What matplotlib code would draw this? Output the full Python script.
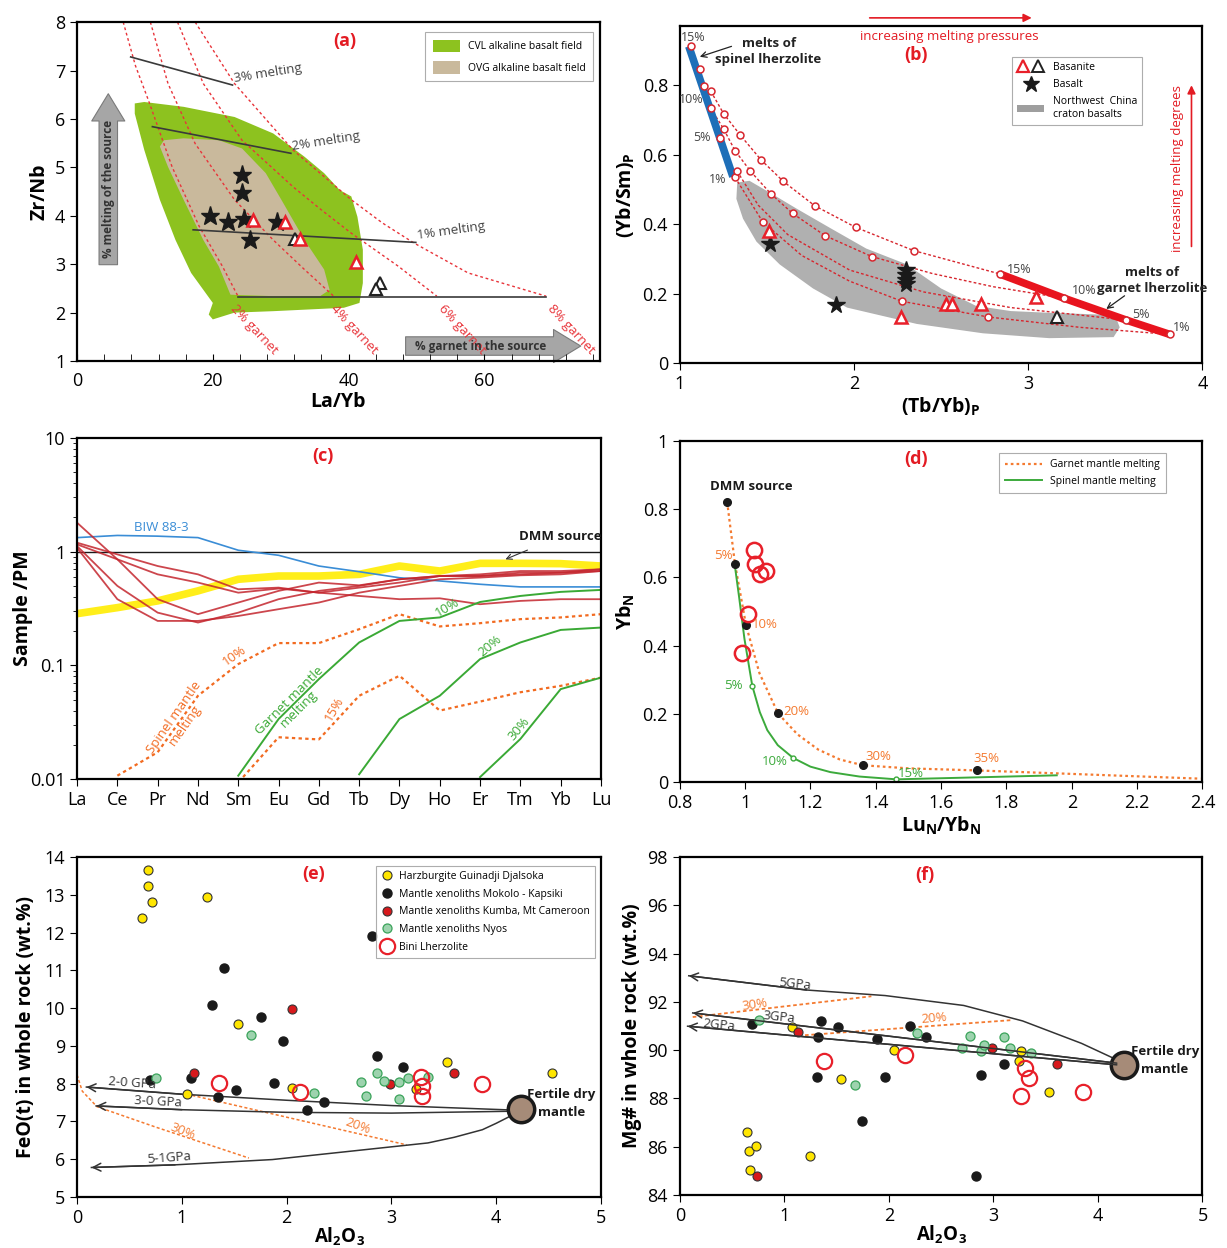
import numpy as np
import matplotlib.pyplot as plt
from matplotlib.patches import Polygon, Patch, FancyArrowPatch
from matplotlib.lines import Line2D
from matplotlib.legend_handler import HandlerTuple
from matplotlib.ticker import MultipleLocator, FixedLocator, FixedFormatter, NullFormatter

plt.rcParams['font.family'] = ['Open Sans', 'DejaVu Sans']
plt.rcParams['mathtext.fontset'] = 'custom'
plt.rcParams['mathtext.rm'] = 'Open Sans'
plt.rcParams['mathtext.bf'] = 'Open Sans:bold'
plt.rcParams['axes.linewidth'] = 1.6
plt.rcParams['xtick.labelsize'] = 13
plt.rcParams['ytick.labelsize'] = 13

RED_T = '#E31B23'

# ---------------- (a) Zr/Nb vs La/Yb ----------------
cvl_field = [(8.5, 6.32), (9.9, 6.35), (15.7, 6.25), (23.2, 6.04), (28.9, 5.70), (33.5, 5.22),
             (36.4, 4.88), (38.7, 4.53), (40.4, 4.40), (41.3, 3.98), (42.1, 3.30), (42.1, 2.61),
             (41.6, 2.20), (39.3, 2.10), (28.9, 2.03), (23.2, 2.0), (20.0, 1.86), (19.4, 1.96),
             (20.0, 2.2), (16.8, 2.82), (14.5, 3.5), (12.2, 4.33), (9.9, 5.36), (8.5, 6.11)]
ovg_field = [(12.8, 5.56), (15.7, 5.60), (20.9, 5.56), (24.3, 5.39), (27.8, 4.88), (30.1, 4.33),
             (33.5, 3.50), (36.4, 2.89), (37.2, 2.47), (35.8, 2.34), (28.9, 2.34), (22.6, 2.37),
             (20.9, 2.95), (18.6, 3.50), (15.7, 4.33), (13.4, 5.01), (12.2, 5.43)]
garnet_curves = {
    '2% garnet': ([6.8, 8.6, 10.5, 14.0, 18.0, 21.4, 23.7], [8.0, 7.1, 6.39, 5.01, 3.78, 2.96, 2.34]),
    '4% garnet': ([10.8, 13.4, 17.4, 23.2, 28.9, 33.5, 37.8], [8.0, 6.73, 5.49, 4.33, 3.50, 2.89, 2.34]),
    '6% garnet': ([14.8, 18.6, 24.3, 31.8, 36.0, 40.4, 47.3, 53.0], [8.0, 6.73, 5.56, 4.60, 4.12, 3.64, 2.96, 2.34]),
    '8% garnet': ([17.4, 23.2, 31.8, 40.4, 45.0, 49.6, 57.6, 69.1], [8.0, 6.73, 5.36, 4.33, 3.85, 3.44, 2.82, 2.34]),
}
garnet_label_pos = [(23.7, 2.22), (38.4, 2.22), (54.3, 2.22), (70.3, 2.22)]
melting_lines = {
    '3% melting': ([7.9, 22.9], [7.28, 6.70]),
    '2% melting': ([11.1, 31.5], [5.84, 5.29]),
    '1% melting': ([17.1, 49.9], [3.71, 3.45]),
    '': ([23.7, 69.1], [2.32, 2.32]),
}
a_star_x = [24.3, 24.3, 19.6, 22.3, 24.6, 29.5, 25.5]
a_star_y = [4.84, 4.47, 4.00, 3.88, 3.94, 3.88, 3.49]
a_redtri_x = [25.9, 30.7, 32.8, 41.1]
a_redtri_y = [3.92, 3.87, 3.52, 3.04]
a_blktri_x = [32.1, 44.7, 44.0]
a_blktri_y = [3.52, 2.61, 2.49]

# ---------------- (b) (Yb/Sm)P vs (Tb/Yb)P ----------------
spinel_line_x = [1.052, 1.305]
spinel_line_y = [0.912, 0.537]
garnet_line_x = [2.836, 3.205, 3.563, 3.811]
garnet_line_y = [0.257, 0.187, 0.124, 0.083]
curveA_x = [1.178, 1.252, 1.348, 1.467, 1.595, 1.775, 2.010, 2.343, 2.836]
curveA_y = [0.783, 0.718, 0.656, 0.585, 0.523, 0.453, 0.391, 0.324, 0.257]
curveB_x = [1.178, 1.252, 1.317, 1.405, 1.524, 1.648, 1.834, 2.102, 2.45, 2.80, 3.205]
curveB_y = [0.734, 0.674, 0.612, 0.553, 0.487, 0.431, 0.367, 0.307, 0.258, 0.220, 0.187]
curveC_x = [1.329, 1.45, 1.62, 1.975, 2.40, 2.90, 3.563]
curveC_y = [0.553, 0.455, 0.370, 0.268, 0.205, 0.160, 0.124]
curveD_x = [1.317, 1.476, 1.70, 1.975, 2.276, 2.770, 3.30, 3.811]
curveD_y = [0.535, 0.407, 0.310, 0.236, 0.178, 0.133, 0.103, 0.083]
b_circle_x = [1.067, 1.115, 1.139, 1.229, 1.317, 1.178, 1.252, 1.348, 1.467, 1.595, 1.775, 2.010,
              2.343, 1.178, 1.252, 1.317, 1.405, 1.524, 1.648, 1.834, 2.102, 1.329, 1.476, 2.276,
              2.770, 2.836, 3.205, 3.563, 3.811]
b_circle_y = [0.912, 0.846, 0.799, 0.648, 0.535, 0.783, 0.718, 0.656, 0.585, 0.523, 0.453, 0.391,
              0.324, 0.734, 0.674, 0.612, 0.553, 0.487, 0.431, 0.367, 0.307, 0.553, 0.407, 0.178,
              0.133, 0.257, 0.187, 0.124, 0.083]
nw_china_field = [(1.33, 0.52), (1.40, 0.525), (1.52, 0.49), (1.67, 0.445), (1.86, 0.39), (2.07, 0.33),
                  (2.30, 0.285), (2.50, 0.215), (2.70, 0.165), (2.90, 0.150), (3.12, 0.145), (3.41, 0.140),
                  (3.505, 0.130), (3.525, 0.103), (3.49, 0.075), (3.12, 0.072), (2.74, 0.086), (2.36, 0.113),
                  (1.96, 0.160), (1.765, 0.215), (1.574, 0.284), (1.44, 0.350), (1.363, 0.416), (1.325, 0.473)]
b_star_x = [1.516, 1.899, 2.30, 2.30, 2.30, 2.30]
b_star_y = [0.342, 0.168, 0.268, 0.255, 0.240, 0.228]
b_redtri_x = [1.512, 2.272, 2.53, 2.564, 2.727, 3.046]
b_redtri_y = [0.381, 0.133, 0.171, 0.171, 0.169, 0.190]
b_blktri_x = [3.164]
b_blktri_y = [0.134]
spinel_pct = ['15%', '10%', '5%', '1%']
spinel_pct_pos = [(1.076, 0.937), (1.067, 0.76), (1.13, 0.649), (1.22, 0.53)]
garnet_pct = ['15%', '10%', '5%', '1%']
garnet_pct_pos = [(2.951, 0.27), (3.324, 0.208), (3.649, 0.141), (3.878, 0.103)]

# ---------------- (c) REE patterns ----------------
ree = ['La', 'Ce', 'Pr', 'Nd', 'Sm', 'Eu', 'Gd', 'Tb', 'Dy', 'Ho', 'Er', 'Tm', 'Yb', 'Lu']
biw_88_3 = [1.33, 1.39, 1.37, 1.33, 1.03, 0.93, 0.748, 0.667, 0.59, 0.553, 0.517, 0.49, 0.49, 0.49]
dmm_pattern = [0.285, 0.322, 0.369, 0.452, 0.572, 0.611, 0.611, 0.632, 0.748, 0.676, 0.79, 0.79, 0.785, 0.748]
samples_c = [
    [1.8, 0.857, 0.382, 0.282, 0.357, 0.452, 0.535, 0.506, 0.572, 0.611, 0.611, 0.654, 0.654, 0.676],
    [1.2, 0.947, 0.748, 0.632, 0.467, 0.483, 0.436, 0.408, 0.382, 0.389, 0.345, 0.369, 0.382, 0.382],
    [1.16, 0.857, 0.632, 0.535, 0.436, 0.474, 0.436, 0.483, 0.535, 0.611, 0.632, 0.676, 0.676, 0.70],
    [1.12, 0.50, 0.291, 0.238, 0.291, 0.382, 0.452, 0.50, 0.572, 0.611, 0.611, 0.632, 0.654, 0.70],
    [1.08, 0.382, 0.246, 0.246, 0.272, 0.312, 0.357, 0.436, 0.50, 0.572, 0.592, 0.62, 0.632, 0.676],
]
spinel10_x = [1, 2, 3, 4, 5, 6, 7, 8, 9, 10, 11, 12, 13]
spinel10_y = [0.0107, 0.0172, 0.054, 0.1026, 0.157, 0.157, 0.208, 0.282, 0.22, 0.235, 0.255, 0.264, 0.282]
spinel15_x = [4.12, 5, 6, 7, 8, 9, 10, 11, 12, 13]
spinel15_y = [0.0104, 0.0233, 0.0223, 0.054, 0.081, 0.040, 0.048, 0.058, 0.066, 0.078]
garnet10_x = [4, 5, 6, 7, 8, 9, 10, 11, 12, 13]
garnet10_y = [0.0107, 0.0337, 0.0757, 0.159, 0.246, 0.264, 0.361, 0.408, 0.443, 0.461]
garnet20_x = [7, 8, 9, 10, 11, 12, 13]
garnet20_y = [0.011, 0.0337, 0.054, 0.1135, 0.159, 0.205, 0.215]
garnet30_x = [10, 11, 12, 13]
garnet30_y = [0.0104, 0.0225, 0.0618, 0.078]

# ---------------- (d) YbN vs LuN/YbN ----------------
gmelt_x = [0.945, 0.969, 1.003, 1.044, 1.101, 1.16, 1.224, 1.29, 1.361, 1.50, 1.709, 2.394]
gmelt_y = [0.822, 0.640, 0.459, 0.319, 0.201, 0.140, 0.095, 0.066, 0.049, 0.040, 0.034, 0.0098]
gmelt_dot_x = [0.945, 0.969, 1.003, 1.101, 1.361, 1.709]
gmelt_dot_y = [0.822, 0.640, 0.459, 0.201, 0.049, 0.034]
gmelt_lab = ['5%', '10%', '20%', '30%', '35%']
gmelt_lab_pos = [(0.935, 0.664), (1.059, 0.461), (1.158, 0.206), (1.409, 0.074), (1.739, 0.069)]
smelt_x = [0.969, 0.982, 0.998, 1.022, 1.045, 1.068, 1.10, 1.147, 1.20, 1.261, 1.35, 1.463, 1.671, 1.954]
smelt_y = [0.632, 0.54, 0.42, 0.282, 0.205, 0.152, 0.108, 0.0706, 0.045, 0.029, 0.016, 0.0078, 0.0127, 0.0196]
smelt_dot_x = [1.022, 1.147, 1.463]
smelt_dot_y = [0.282, 0.0706, 0.0078]
smelt_lab = ['5%', '10%', '15%']
smelt_lab_pos = [(0.965, 0.282), (1.092, 0.061), (1.508, 0.025)]
d_bini_x = [1.026, 1.030, 1.045, 1.064, 1.008, 0.989]
d_bini_y = [0.679, 0.640, 0.611, 0.620, 0.493, 0.379]

# ---------------- (e) FeO(t) vs Al2O3 ----------------
harz_e_x = [0.676, 0.676, 0.713, 0.62, 1.236, 1.537, 1.047, 2.049, 3.237, 3.526, 4.529]
harz_e_y = [13.66, 13.23, 12.80, 12.38, 12.95, 9.57, 7.72, 7.88, 7.87, 8.58, 8.27]
mokolo_e_x = [2.81, 1.403, 1.292, 1.752, 1.964, 2.866, 3.107, 0.694, 1.084, 1.882, 1.518, 1.344, 2.357, 2.197]
mokolo_e_y = [11.92, 11.07, 10.09, 9.76, 9.12, 8.73, 8.45, 8.09, 8.14, 8.01, 7.83, 7.64, 7.52, 7.30]
kumba_e_x = [2.049, 1.114, 2.988, 3.60]
kumba_e_y = [9.98, 8.27, 7.99, 8.29]
nyos_e_x = [1.659, 0.757, 2.261, 2.71, 2.866, 2.929, 2.754, 3.073, 3.155, 3.07, 3.348]
nyos_e_y = [9.28, 8.16, 7.74, 8.04, 8.28, 8.08, 7.68, 8.05, 8.16, 7.59, 8.18]
bini_e_x = [1.355, 2.131, 3.281, 3.292, 3.292, 3.86]
bini_e_y = [8.03, 7.79, 8.18, 7.94, 7.67, 7.99]
fertile_e = (4.239, 7.32)
e_paths = {
    '2-0 GPa': ([4.165, 3.0, 2.0, 1.0, 0.089], [7.30, 7.42, 7.56, 7.72, 7.91]),
    '3-0 GPa': ([4.165, 3.0, 2.0, 1.0, 0.182], [7.27, 7.22, 7.24, 7.31, 7.41]),
    '5-1GPa': ([4.128, 4.0, 3.868, 3.6, 3.348, 2.606, 1.863, 0.935, 0.137],
               [7.13, 6.95, 6.78, 6.58, 6.43, 6.21, 5.99, 5.85, 5.78]),
}
e_path_lab_pos = [(0.53, 8.0, -4), (0.77, 7.52, -3), (0.88, 6.03, 4)]
e_melt30_x = [0.0, 0.05, 0.19, 0.75, 1.64]
e_melt30_y = [8.23, 7.80, 7.39, 6.85, 6.03]
e_melt20_x = [1.05, 3.144]
e_melt20_y = [7.72, 6.38]

# ---------------- (f) Mg# vs Al2O3 ----------------
harz_f_x = [0.639, 0.661, 0.729, 0.676, 1.243, 1.544, 1.071, 2.047, 3.268, 3.249, 3.535]
harz_f_y = [86.59, 85.81, 86.02, 85.05, 85.60, 88.79, 90.96, 90.0, 89.98, 89.57, 88.26]
mokolo_f_x = [0.687, 1.349, 1.514, 1.319, 1.89, 2.205, 2.352, 1.315, 1.965, 1.739, 2.881, 3.099, 2.829]
mokolo_f_y = [91.10, 91.21, 90.96, 90.55, 90.45, 90.99, 90.55, 88.89, 88.89, 87.07, 88.98, 89.42, 84.79]
kumba_f_x = [1.131, 2.99, 3.606, 0.736]
kumba_f_y = [90.73, 90.08, 89.42, 84.79]
nyos_f_x = [0.755, 1.679, 2.265, 2.70, 2.772, 2.885, 2.915, 3.103, 3.159, 3.358]
nyos_f_y = [91.24, 88.55, 90.69, 90.10, 90.60, 89.98, 90.21, 90.55, 90.08, 89.87]
bini_f_x = [1.379, 2.152, 3.298, 3.336, 3.264, 3.862]
bini_f_y = [89.54, 89.80, 89.26, 88.85, 88.12, 88.25]
fertile_f = (4.249, 89.39)
f_paths = {
    '5GPa': ([4.181, 3.843, 3.279, 2.716, 1.965, 1.213, 0.086], [89.6, 90.28, 91.21, 91.85, 92.26, 92.49, 93.08]),
    '3GPa': ([4.181, 0.124], [89.46, 91.54]),
    '2GPa': ([4.181, 0.075], [89.39, 90.99]),
}
f_path_lab_pos = [(1.1, 92.75, -6), (0.95, 91.35, -6), (0.37, 91.05, -6)]
f_melt30_x = [0.124, 1.833]
f_melt30_y = [91.37, 92.23]
f_melt20_x = [1.138, 3.167]
f_melt20_y = [90.6, 91.24]

# =====================================================
fig = plt.figure(figsize=(12.27, 12.48), dpi=100)
ax_a = fig.add_axes([0.0628, 0.7107, 0.426, 0.2716])
ax_b = fig.add_axes([0.554, 0.709, 0.426, 0.270])
ax_c = fig.add_axes([0.0628, 0.3758, 0.427, 0.2732])
ax_d = fig.add_axes([0.554, 0.3734, 0.426, 0.2732])
ax_e = fig.add_axes([0.0628, 0.0409, 0.427, 0.2724])
ax_f = fig.add_axes([0.554, 0.0425, 0.426, 0.2708])


def panel_tag(ax, x, y, s):
    ax.text(x, y, s, color=RED_T, fontsize=13, fontweight='bold', ha='center', va='center')


# ---- (a)
ax = ax_a
ax.add_patch(Polygon(cvl_field, closed=True, fc='#8DC21F', ec='none'))
ax.add_patch(Polygon(ovg_field, closed=True, fc='#C9B99C', ec='none'))
for (lab, (xs, ys)), (lx, ly) in zip(garnet_curves.items(), garnet_label_pos):
    ax.plot(xs, ys, ls=(0, (2, 2)), color='#E8343A', lw=1.0)
    ax.text(lx, ly, lab, color='#E8343A', fontsize=9.5, rotation=-47, rotation_mode='anchor',
            ha='left', va='top')
for lab, (xs, ys) in melting_lines.items():
    ax.plot(xs, ys, color='#3a3a3a', lw=1.2)
    if lab:
        ang = 9 if lab != '1% melting' else 8
        ax.text(xs[-1] + 0.3, ys[-1], lab, color='#444444', fontsize=9.5, rotation=ang,
                rotation_mode='anchor', ha='left', va='bottom')
ax.plot(a_star_x, a_star_y, '*', color='#1a1a1a', ms=14, ls='none')
ax.plot(a_blktri_x, a_blktri_y, '^', mfc='white', mec='#222222', mew=1.5, ms=9, ls='none')
ax.plot(a_redtri_x, a_redtri_y, '^', mfc='white', mec='#E8202A', mew=1.8, ms=9, ls='none')
ax.add_patch(FancyArrowPatch((4.6, 2.99), (4.6, 6.52), arrowstyle='simple,head_length=1.4,head_width=1.7,tail_width=0.95',
                             mutation_scale=14, fc='#A6A6A6', ec='#7a7a7a', lw=0.8, shrinkA=0, shrinkB=0))
ax.text(4.6, 4.55, '% melting of the source', rotation=90, ha='center', va='center', fontsize=8.5,
        fontweight='bold', color='#333333')
ax.add_patch(FancyArrowPatch((48.4, 1.31), (74.2, 1.31), arrowstyle='simple,head_length=1.4,head_width=1.7,tail_width=0.95',
                             mutation_scale=14, fc='#A6A6A6', ec='#7a7a7a', lw=0.8, shrinkA=0, shrinkB=0,
                             clip_on=False))
ax.text(59.5, 1.31, '% garnet in the source', ha='center', va='center', fontsize=8.5,
        fontweight='bold', color='#333333')
panel_tag(ax, 39.5, 7.6, '(a)')
leg = ax.legend(handles=[Patch(fc='#8DC21F', ec='none'), Patch(fc='#C9B99C', ec='none')],
                labels=['CVL alkaline basalt field', 'OVG alkaline basalt field'],
                loc='upper right', bbox_to_anchor=(0.997, 0.985), fontsize=7.5, fancybox=False,
                edgecolor='#999999', handlelength=2.6, handleheight=1.5, borderpad=0.7, labelspacing=0.8)
leg.get_frame().set_linewidth(0.8)
ax.set_xlim(0, 77)
ax.set_ylim(1, 8)
ax.set_xticks([0, 20, 40, 60])
ax.xaxis.set_minor_locator(MultipleLocator(4))
ax.tick_params(axis='x', which='both', direction='in', length=5, pad=8)
ax.tick_params(axis='y', direction='out', length=5)
ax.set_xlabel('La/Yb', fontsize=14, fontweight='bold', labelpad=1)
ax.set_ylabel('Zr/Nb', fontsize=14, fontweight='bold', labelpad=4)

# ---- (b)
ax = ax_b
ax.add_patch(Polygon(nw_china_field, closed=True, fc='#B0B0B0', ec='none'))
for xs, ys in [(curveA_x, curveA_y), (curveB_x, curveB_y), (curveC_x, curveC_y), (curveD_x, curveD_y)]:
    ax.plot(xs, ys, ls=(0, (2, 1.6)), color='#D7262E', lw=1.0)
ax.plot(spinel_line_x, spinel_line_y, color='#1E6FB8', lw=5.5, solid_capstyle='butt')
ax.plot(garnet_line_x, garnet_line_y, color='#E8141E', lw=5.5, solid_capstyle='butt')
ax.plot(b_circle_x, b_circle_y, 'o', mfc='white', mec='#D7262E', mew=1.1, ms=5, ls='none')
ax.plot(b_star_x, b_star_y, '*', color='#1a1a1a', ms=13, ls='none')
ax.plot(b_redtri_x, b_redtri_y, '^', mfc='white', mec='#E8202A', mew=1.8, ms=9, ls='none')
ax.plot(b_blktri_x, b_blktri_y, '^', mfc='white', mec='#222222', mew=1.5, ms=9, ls='none')
for s, (x, y) in zip(spinel_pct, spinel_pct_pos):
    ax.text(x, y, s, fontsize=9, color='#444444', ha='center', va='center')
for s, (x, y) in zip(garnet_pct, garnet_pct_pos):
    ax.text(x, y, s, fontsize=9, color='#444444', ha='center', va='center')
ax.text(1.51, 0.898, 'melts of\nspinel lherzolite', fontsize=9.5, fontweight='bold', ha='center',
        va='center', color='#222222', linespacing=1.3)
ax.annotate('', xy=(1.115, 0.882), xytext=(1.297, 0.912),
            arrowprops=dict(arrowstyle='->', color='#222222', lw=0.9, shrinkA=0, shrinkB=0))
ax.text(3.71, 0.239, 'melts of\ngarnet lherzolite', fontsize=9.5, fontweight='bold', ha='center',
        va='center', color='#222222', linespacing=1.3)
ax.annotate('', xy=(3.448, 0.156), xytext=(3.553, 0.194),
            arrowprops=dict(arrowstyle='->', color='#222222', lw=0.9, shrinkA=0, shrinkB=0))
panel_tag(ax, 2.358, 0.886, '(b)')
ax.text(2.545, 0.94, 'increasing melting pressures', color=RED_T, fontsize=9.5, ha='center', va='center')
ax.annotate('', xy=(3.02, 0.994), xytext=(2.09, 0.994), annotation_clip=False,
            arrowprops=dict(arrowstyle='-|>', color=RED_T, lw=1.2, mutation_scale=12, shrinkA=0, shrinkB=0))
ax.text(3.855, 0.56, 'increasing melting degrees', color=RED_T, fontsize=9.5, rotation=90,
        ha='center', va='center')
ax.annotate('', xy=(3.937, 0.80), xytext=(3.937, 0.336),
            arrowprops=dict(arrowstyle='-|>', color=RED_T, lw=1.2, mutation_scale=12, shrinkA=0, shrinkB=0))
h_tri_r = Line2D([], [], marker='^', mfc='white', mec='#E8202A', mew=1.6, ms=8, ls='none')
h_tri_k = Line2D([], [], marker='^', mfc='white', mec='#222222', mew=1.4, ms=8, ls='none')
h_star = Line2D([], [], marker='*', color='#1a1a1a', ms=12, ls='none')
leg = ax.legend(handles=[(h_tri_r, h_tri_k), h_star, Patch(fc='#9E9E9E', ec='none')],
                labels=['Basanite', 'Basalt', 'Northwest  China\ncraton basalts'],
                handler_map={tuple: HandlerTuple(ndivide=None, pad=0.3)},
                loc='upper right', bbox_to_anchor=(0.895, 0.925), fontsize=7.5, fancybox=False,
                edgecolor='#999999', handlelength=2.6, borderpad=0.5, labelspacing=0.6)
leg.get_frame().set_linewidth(0.8)
ax.set_xlim(1, 4)
ax.set_ylim(0, 0.97)
ax.set_xticks([1, 2, 3, 4])
ax.set_yticks([0, 0.2, 0.4, 0.6, 0.8])
ax.set_yticklabels(['0', '0.2', '0.4', '0.6', '0.8'])
ax.tick_params(direction='out', length=5)
ax.set_xlabel(r'$\mathbf{(Tb/Yb)_P}$', fontsize=14, labelpad=2)
ax.set_ylabel(r'$\mathbf{(Yb/Sm)_P}$', fontsize=14, labelpad=4)

# ---- (c)
ax = ax_c
xc = np.arange(len(ree))
ax.axhline(1, color='#1a1a1a', lw=1.0)
ax.plot(xc, dmm_pattern, color='#FFEE1A', lw=5.5, solid_joinstyle='round')
ax.plot(xc, biw_88_3, color='#3A8DD6', lw=1.2)
for s in samples_c:
    ax.plot(xc, s, color='#C4262E', lw=1.3, alpha=0.85)
ax.plot(spinel10_x, spinel10_y, ls=(0, (1.5, 1.5)), color='#F26B21', lw=1.6)
ax.plot(spinel15_x, spinel15_y, ls=(0, (1.5, 1.5)), color='#F26B21', lw=1.6)
for xs, ys in [(garnet10_x, garnet10_y), (garnet20_x, garnet20_y), (garnet30_x, garnet30_y)]:
    ax.plot(xs, ys, color='#3AA935', lw=1.4)
ax.text(2.08, 1.62, 'BIW 88-3', color='#3A8DD6', fontsize=9.5, ha='center', va='center')
ax.annotate('DMM source', xy=(10.63, 0.857), xytext=(11.98, 1.36), fontsize=9.5, fontweight='bold',
            ha='center', va='center', color='#1a1a1a',
            arrowprops=dict(arrowstyle='->', color='#333333', lw=0.8, shrinkA=8, shrinkB=0))
ax.text(2.55, 0.032, 'Spinel mantle\nmelting', color='#F26B21', fontsize=9.5, rotation=55,
        ha='center', va='center', linespacing=1.0)
ax.text(5.38, 0.045, 'Garnet mantle\nmelting', color='#3AA935', fontsize=9.5, rotation=45,
        ha='center', va='center', linespacing=1.0)
ax.text(3.9, 0.121, '10%', color='#F26B21', fontsize=9.5, rotation=35, ha='center', va='center')
ax.text(6.37, 0.041, '15%', color='#F26B21', fontsize=9.5, rotation=60, ha='center', va='center')
ax.text(9.18, 0.32, '10%', color='#3AA935', fontsize=9.5, rotation=30, ha='center', va='center')
ax.text(10.24, 0.148, '20%', color='#3AA935', fontsize=9.5, rotation=40, ha='center', va='center')
ax.text(10.97, 0.0275, '30%', color='#3AA935', fontsize=9.5, rotation=50, ha='center', va='center')
panel_tag(ax, 6.1, 6.9, '(c)')
ax.set_yscale('log')
ax.set_xlim(0, 13)
ax.set_ylim(0.01, 10)
ax.set_xticks(xc)
ax.set_xticklabels(ree)
ax.yaxis.set_major_locator(FixedLocator([0.01, 0.1, 1, 10]))
ax.yaxis.set_major_formatter(FixedFormatter(['0.01', '0.1', '1', '10']))
ax.yaxis.set_minor_formatter(NullFormatter())
ax.tick_params(direction='out', length=5)
ax.tick_params(which='minor', direction='out', length=3)
ax.set_ylabel('Sample /PM', fontsize=14, fontweight='bold')
ax.yaxis.set_label_coords(-0.085, 0.5)

# ---- (d)
ax = ax_d
ax.plot(gmelt_x, gmelt_y, ls=(0, (1.2, 1.4)), color='#F47A30', lw=1.6, label='Garnet mantle melting')
ax.plot(smelt_x, smelt_y, color='#3CAA3C', lw=1.4, label='Spinel mantle melting')
ax.plot(gmelt_dot_x, gmelt_dot_y, 'o', color='#1a1a1a', ms=5.5, ls='none')
ax.plot(smelt_dot_x, smelt_dot_y, 'o', mfc='white', mec='#3CAA3C', ms=3.5, mew=1, ls='none')
ax.plot(d_bini_x, d_bini_y, 'o', mfc='none', mec='#E8202A', mew=1.8, ms=11, ls='none')
for s, (x, y) in zip(gmelt_lab, gmelt_lab_pos):
    ax.text(x, y, s, color='#F47A30', fontsize=9.5, ha='center', va='center')
for s, (x, y) in zip(smelt_lab, smelt_lab_pos):
    ax.text(x, y, s, color='#3CAA3C', fontsize=9.5, ha='center', va='center')
ax.text(1.02, 0.868, 'DMM source', fontsize=9.5, fontweight='bold', ha='center', va='center', color='#1a1a1a')
panel_tag(ax, 1.523, 0.948, '(d)')
leg = ax.legend(loc='upper right', bbox_to_anchor=(0.94, 0.98), fontsize=7.5, fancybox=False,
                edgecolor='#999999', handlelength=3.5, borderpad=0.6, labelspacing=0.5)
leg.get_frame().set_linewidth(0.8)
ax.set_xlim(0.8, 2.4)
ax.set_ylim(0, 1)
ax.set_xticks([0.8, 1.0, 1.2, 1.4, 1.6, 1.8, 2.0, 2.2, 2.4])
ax.set_xticklabels(['0.8', '1', '1.2', '1.4', '1.6', '1.8', '2', '2.2', '2.4'])
ax.set_yticks([0, 0.2, 0.4, 0.6, 0.8, 1.0])
ax.set_yticklabels(['0', '0.2', '0.4', '0.6', '0.8', '1'])
ax.tick_params(direction='out', length=5)
ax.set_xlabel(r'$\mathbf{Lu_N/Yb_N}$', fontsize=14, labelpad=2)
ax.set_ylabel(r'$\mathbf{Yb_N}$', fontsize=14, labelpad=4)


# ---- (e) and (f)
def plot_xenoliths(ax, hx, hy, mx, my, kx, ky, nx, ny, bx, by):
    ax.plot(hx, hy, 'o', mfc='#FFE600', mec='#333333', mew=0.8, ms=6.5, ls='none',
            label='Harzburgite Guinadji Djalsoka')
    ax.plot(mx, my, 'o', mfc='#1a1a1a', mec='#1a1a1a', ms=6.5, ls='none',
            label='Mantle xenoliths Mokolo - Kapsiki')
    ax.plot(kx, ky, 'o', mfc='#D7191C', mec='#333333', mew=0.8, ms=6.5, ls='none',
            label='Mantle xenoliths Kumba, Mt Cameroon')
    ax.plot(nx, ny, 'o', mfc='#9DD3AE', mec='#3AA35A', mew=0.9, ms=6.5, ls='none',
            label='Mantle xenoliths Nyos')
    ax.plot(bx, by, 'o', mfc='none', mec='#E8202A', mew=1.6, ms=11, ls='none', label='Bini Lherzolite')


def arrow_path(ax, xs, ys):
    ax.plot(xs, ys, color='#333333', lw=1.1)
    ax.annotate('', xy=(xs[-1], ys[-1]), xytext=(xs[-2], ys[-2]),
                arrowprops=dict(arrowstyle='->', color='#333333', lw=1.1, mutation_scale=14,
                                shrinkA=0, shrinkB=0))


ax = ax_e
ax.plot(e_melt30_x, e_melt30_y, ls=(0, (2, 1.5)), color='#F47A30', lw=1.1)
ax.plot(e_melt20_x, e_melt20_y, ls=(0, (2, 1.5)), color='#F47A30', lw=1.1)
for (lab, (xs, ys)), (lx, ly, rot) in zip(e_paths.items(), e_path_lab_pos):
    arrow_path(ax, xs, ys)
    ax.text(lx, ly, lab, fontsize=9.5, color='#333333', rotation=rot, ha='center', va='center')
ax.text(1.01, 6.73, '30%', color='#F47A30', fontsize=9.5, rotation=-22, ha='center', va='center')
ax.text(2.68, 6.88, '20%', color='#F47A30', fontsize=9.5, rotation=-20, ha='center', va='center')
plot_xenoliths(ax, harz_e_x, harz_e_y, mokolo_e_x, mokolo_e_y, kumba_e_x, kumba_e_y,
               nyos_e_x, nyos_e_y, bini_e_x, bini_e_y)
ax.plot(*fertile_e, 'o', ms=19, mfc='#A68B78', mec='#1a1a1a', mew=2.5, ls='none')
ax.text(4.62, 7.47, 'Fertile dry\nmantle', fontsize=9.5, fontweight='bold', ha='center', va='center',
        color='#1a1a1a', linespacing=1.5)
panel_tag(ax, 2.26, 13.54, '(e)')
leg = ax.legend(loc='upper right', bbox_to_anchor=(0.998, 0.99), fontsize=7.5, fancybox=False,
                edgecolor='#999999', handlelength=1.2, borderpad=0.5, labelspacing=0.65, handletextpad=0.5)
leg.get_frame().set_linewidth(0.8)
ax.set_xlim(0, 5)
ax.set_ylim(5, 14)
ax.set_yticks(range(5, 15))
ax.tick_params(direction='out', length=5)
ax.set_xlabel(r'$\mathbf{Al_2O_3}$', fontsize=13.5, labelpad=-1)
ax.set_ylabel('FeO(t) in whole rock (wt.%)', fontsize=14, fontweight='bold', labelpad=6)

ax = ax_f
ax.plot(f_melt30_x, f_melt30_y, ls=(0, (2, 1.5)), color='#F47A30', lw=1.3)
ax.plot(f_melt20_x, f_melt20_y, ls=(0, (2, 1.5)), color='#F47A30', lw=1.3)
for (lab, (xs, ys)), (lx, ly, rot) in zip(f_paths.items(), f_path_lab_pos):
    arrow_path(ax, xs, ys)
    ax.text(lx, ly, lab, fontsize=9.5, color='#333333', rotation=rot, ha='center', va='center')
ax.text(0.72, 91.9, '30%', color='#F47A30', fontsize=9.5, rotation=8, ha='center', va='center')
ax.text(2.43, 91.3, '20%', color='#F47A30', fontsize=9.5, rotation=5, ha='center', va='center')
plot_xenoliths(ax, harz_f_x, harz_f_y, mokolo_f_x, mokolo_f_y, kumba_f_x, kumba_f_y,
               nyos_f_x, nyos_f_y, bini_f_x, bini_f_y)
ax.plot(*fertile_f, 'o', ms=19, mfc='#A68B78', mec='#1a1a1a', mew=2.5, ls='none')
ax.text(4.64, 89.55, 'Fertile dry\nmantle', fontsize=9.5, fontweight='bold', ha='center', va='center',
        color='#1a1a1a', linespacing=1.5)
panel_tag(ax, 2.34, 97.25, '(f)')
ax.set_xlim(0, 5)
ax.set_ylim(84, 98)
ax.set_yticks(range(84, 99, 2))
ax.tick_params(direction='out', length=5)
ax.set_xlabel(r'$\mathbf{Al_2O_3}$', fontsize=13.5, labelpad=-1)
ax.set_ylabel('Mg# in whole rock (wt.%)', fontsize=14, fontweight='bold', labelpad=4)

fig.savefig('out.png', dpi=100)
